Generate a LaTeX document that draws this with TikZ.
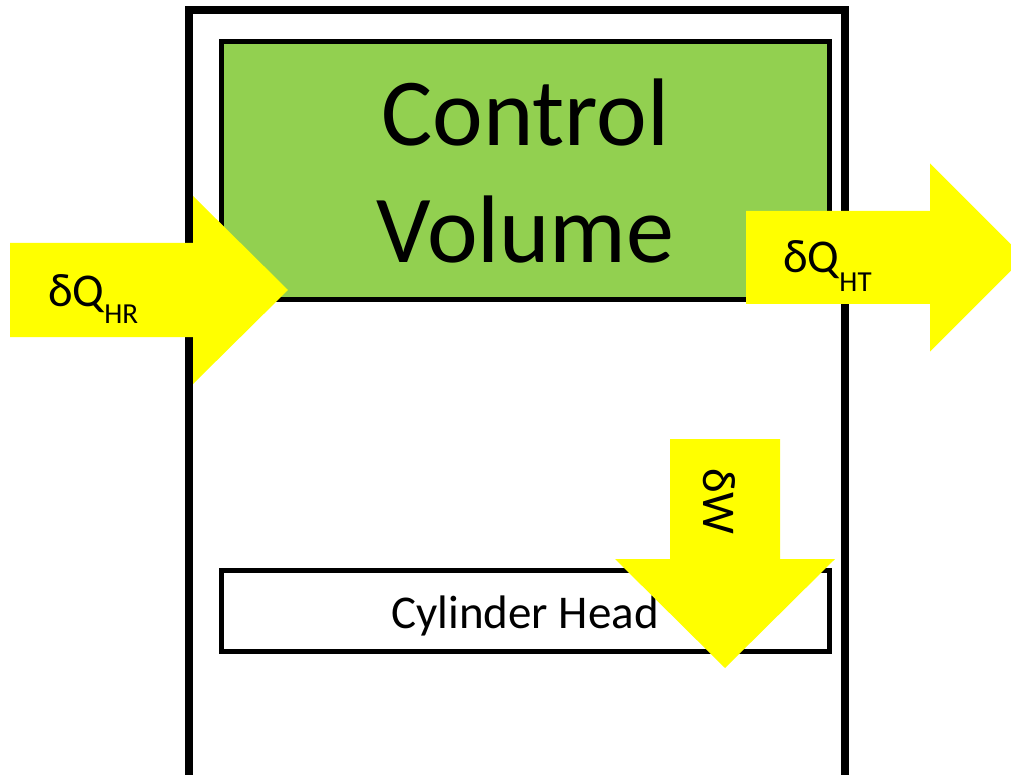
\documentclass[tikz,border=0pt]{standalone}
\usepackage{fontspec}
\setmainfont{Carlito}
\definecolor{cvgreen}{HTML}{92D050}
\definecolor{heatyellow}{HTML}{FFFF00}
\newcommand{\subtxt}[2]{\raisebox{#1}{\fontsize{29}{29}\selectfont #2}}

\begin{document}
\begin{tikzpicture}[
            x=1pt, y=-1pt,
            wall/.style={line width=7.5pt, line join=miter},
            cvbox/.style={draw, line width=5pt, fill=cvgreen, minimum width=608pt, minimum height=258.5pt,
                inner sep=0pt, align=center, font=\fontsize{96}{117}\selectfont},
            headbox/.style={draw, line width=5pt, minimum width=608pt, minimum height=81pt, inner sep=0pt},
            heat/.style={fill=heatyellow},
            lbl/.style={inner sep=0pt, font=\fontsize{47}{56}\selectfont}
        ]
            \useasboundingbox (0,0) rectangle (1011,775);

            \draw[wall] (189,790) -- (189,10) -- (845,10) -- (845,790);
            \node[cvbox] (cv) at (525.5,170.75) {Control\\Volume};
            \node[headbox] (head) at (525.5,610.5) {};
            \node[lbl, anchor=base] (headlbl) at (525,628) {Cylinder Head};

            \fill[heat] (10,243) -- (193,243) -- (193,196) -- (288,290)
                -- (193,384) -- (193,337) -- (10,337) -- cycle;
            \fill[heat] (746,211) -- (930,211) -- (930,163.5) -- (1024,257.5)
                -- (930,351.5) -- (930,304) -- (746,304) -- cycle;
            \fill[heat] (670,439) -- (780,439) -- (780,559) -- (835,559)
                -- (725,668) -- (615,559) -- (670,559) -- cycle;

            \node[lbl, anchor=base west] (qhr) at (48,307) {δQ\subtxt{-17pt}{HR}};
            \node[lbl, anchor=base west] (qht) at (783,273) {δQ\subtxt{-19pt}{HT}};
            \node[lbl, anchor=base west, rotate=-90] (work) at (703,468) {δW};
        \end{tikzpicture}
\end{document}
